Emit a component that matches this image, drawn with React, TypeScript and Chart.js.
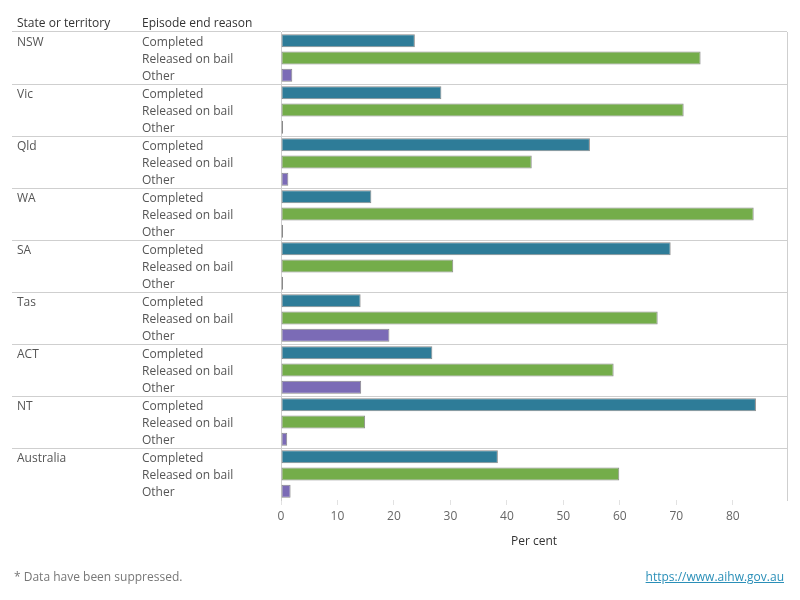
import React, { useEffect, useRef } from "react";
import { Chart, registerables } from "chart.js";

Chart.register(...registerables);

const states = ["NSW", "Vic", "Qld", "WA", "SA", "Tas", "ACT", "NT", "Australia"];
const reasons = ["Completed", "Released on bail", "Other"];
const completed = [23.7, 28.4, 54.7, 16.0, 69.0, 14.1, 26.8, 84.1, 38.4];
const releasedOnBail = [74.3, 71.3, 44.4, 83.7, 30.5, 66.7, 58.9, 14.9, 59.9];
const other = [2.0, 0.2, 1.3, 0.2, 0.2, 19.2, 14.2, 1.1, 1.7];
const xTicks = [0, 10, 20, 30, 40, 50, 60, 70, 80];
const xMax = 89.6;
const reasonColors = ["#2e7c98", "#74ad4a", "#7b6bb6"];

const FONT = "'Open Sans', 'Noto Sans', sans-serif";

export default function App() {
  const ref = useRef<HTMLCanvasElement | null>(null);

  useEffect(() => {
    if (!ref.current) return;
    const labels = states.flatMap((s) => reasons.map((r) => `${s} ${r}`));
    const values = states.flatMap((_, i) => [completed[i], releasedOnBail[i], other[i]]);
    const colors = states.flatMap(() => reasonColors);
    const sepColor = (ctx: any) => (ctx.index % 3 === 0 ? "#cfcfcf" : "rgba(0,0,0,0)");

    const chart = new Chart(ref.current, {
      type: "bar",
      data: {
        labels,
        datasets: [
          {
            data: values,
            backgroundColor: colors,
            borderColor: "#8a8a8a",
            borderWidth: 1,
            borderSkipped: false,
            barPercentage: 0.75,
            categoryPercentage: 1,
            minBarLength: 2,
            yAxisID: "y",
          },
        ],
      },
      options: {
        indexAxis: "y",
        animation: false,
        responsive: false,
        layout: { padding: { left: 17, right: 13, top: 32, bottom: 40 } },
        plugins: { legend: { display: false }, tooltip: { enabled: false } },
        scales: {
          x: {
            type: "linear",
            position: "bottom",
            min: 0,
            max: xMax,
            afterBuildTicks: (s: any) => {
              s.ticks = xTicks.map((v) => ({ value: v }));
            },
            afterFit: (s: any) => {
              s.height = 60;
            },
            grid: { drawOnChartArea: false, tickLength: 5, color: "#e2e2e2" },
            border: { display: false },
            ticks: { color: "#666", font: { family: FONT, size: 12 }, padding: 4, maxRotation: 0 },
            title: {
              display: true,
              text: "Per cent",
              color: "#333",
              font: { family: FONT, size: 12 },
              padding: { top: 0, bottom: 11 },
            },
          },
          y2: {
            type: "category",
            position: "left",
            weight: 2,
            offset: true,
            afterFit: (s: any) => {
              s.width = 125;
            },
            grid: { offset: true, drawOnChartArea: false, tickLength: 130, color: sepColor },
            border: { display: false },
            ticks: {
              autoSkip: false,
              crossAlign: "far",
              padding: 0,
              labelOffset: 1.5,
              color: "#555",
              font: { family: FONT, size: 12 },
              callback: (_v: any, i: number) => (i % 3 === 0 ? states[i / 3] : ""),
            },
          },
          y: {
            type: "category",
            position: "left",
            weight: 1,
            offset: true,
            afterFit: (s: any) => {
              s.width = 139;
            },
            grid: { offset: true, drawOnChartArea: true, tickLength: 139, color: sepColor },
            border: { display: true, color: "#cfcfcf" },
            ticks: {
              autoSkip: false,
              crossAlign: "far",
              padding: 0,
              labelOffset: 1.5,
              color: "#555",
              font: { family: FONT, size: 12 },
              callback: (_v: any, i: number) => reasons[i % 3],
            },
          },
          yr: {
            type: "category",
            position: "right",
            offset: true,
            afterFit: (s: any) => {
              s.width = 0;
            },
            grid: { display: false },
            border: { display: true, color: "#cfcfcf" },
            ticks: { display: false },
          },
        },
      },
    });
    return () => chart.destroy();
  }, []);

  const txt: React.CSSProperties = {
    position: "absolute",
    fontFamily: FONT,
    fontSize: 12,
    lineHeight: "16px",
    whiteSpace: "nowrap",
  };

  return (
    <div style={{ position: "absolute", left: 0, top: 0, width: 800, height: 600, background: "#fff" }}>
      <canvas ref={ref} width={800} height={600} style={{ position: "absolute", left: 0, top: 0 }} />
      <div style={{ ...txt, left: 17, top: 15, color: "#333" }}>State or territory</div>
      <div style={{ ...txt, left: 142, top: 15, color: "#333" }}>Episode end reason</div>
      <div style={{ ...txt, left: 14, top: 569, color: "#777" }}>* Data have been suppressed.</div>
      <a
        href="https://www.aihw.gov.au"
        style={{ ...txt, right: 16, top: 569, color: "#2a8fb8", textDecoration: "underline" }}
      >
        https://www.aihw.gov.au
      </a>
    </div>
  );
}
